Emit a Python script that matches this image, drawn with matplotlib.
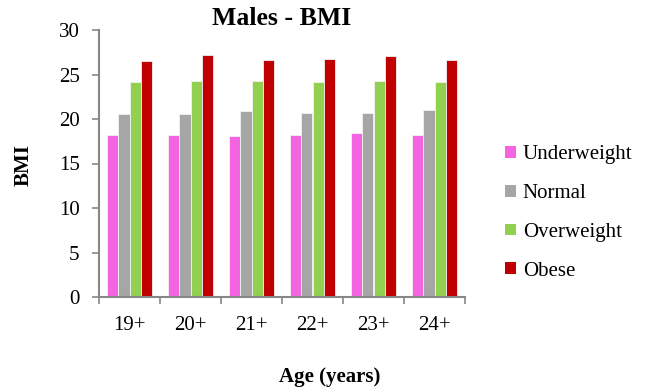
import numpy as np
import matplotlib
matplotlib.use("Agg")
import matplotlib.pyplot as plt
from matplotlib.patches import Patch

plt.rcParams['font.family'] = ['Liberation Serif', 'DejaVu Serif']

# Datos
ages = ["19+", "20+", "21+", "22+", "23+", "24+"]
underweight = [18.2, 18.2, 18.1, 18.15, 18.4, 18.25]
normal = [20.55, 20.6, 20.9, 20.7, 20.65, 21.0]
overweight = [24.15, 24.25, 24.25, 24.2, 24.25, 24.15]
obese = [26.5, 27.15, 26.6, 26.7, 27.05, 26.65]

series = [underweight, normal, overweight, obese]
names = ["Underweight", "Normal", "Overweight", "Obese"]
colors = ["#F564E0", "#A6A6A6", "#92D050", "#C00000"]

fig = plt.figure(figsize=(6.49, 3.89), dpi=100)
ax = fig.add_axes([99 / 649, 92 / 389, 366 / 649, 267 / 389])

x = np.arange(len(ages))
w = 0.182
for i, (vals, c) in enumerate(zip(series, colors)):
    ax.bar(x + (i - 1.5) * w, vals, w, color=c, edgecolor="#F2F2F2", linewidth=0.6, zorder=2)

ax.set_xlim(-0.5, len(ages) - 0.5)
ax.set_ylim(0, 30)
ax.set_yticks(range(0, 31, 5))
ax.set_xticks(x)
ax.set_xticklabels(ages)
ax.set_xticks(np.arange(-0.5, len(ages), 1), minor=True)

for s in ["top", "right"]:
    ax.spines[s].set_visible(False)
for s in ["left", "bottom"]:
    ax.spines[s].set_color("#878787")
    ax.spines[s].set_linewidth(1.5)

ax.tick_params(axis="y", direction="out", length=5, width=1.2, color="#878787", labelsize=15, pad=9)
ax.tick_params(axis="x", which="major", length=0, labelsize=15, pad=14)
ax.tick_params(axis="x", which="minor", direction="out", length=5, width=1.2, color="#878787")

ax.set_title("Males - BMI", fontsize=18.5, fontweight="bold", pad=2)
fig.text(330 / 649, 1 - 377 / 389, "Age (years)", fontsize=15, fontweight="bold", ha="center", va="center")
fig.text(24 / 649, 1 - 165 / 389, "BMI", fontsize=15, fontweight="bold", ha="center", va="center", rotation=90)

handles = [Patch(facecolor=c, edgecolor="none") for c in colors]
fig.legend(handles, names, loc="center left", bbox_to_anchor=(505 / 649, 1 - 213 / 389),
           frameon=False, fontsize=15, handlelength=0.55, handleheight=0.5,
           handletextpad=0.3, labelspacing=0.95, borderpad=0, borderaxespad=0)

fig.savefig("out.png", dpi=100)
